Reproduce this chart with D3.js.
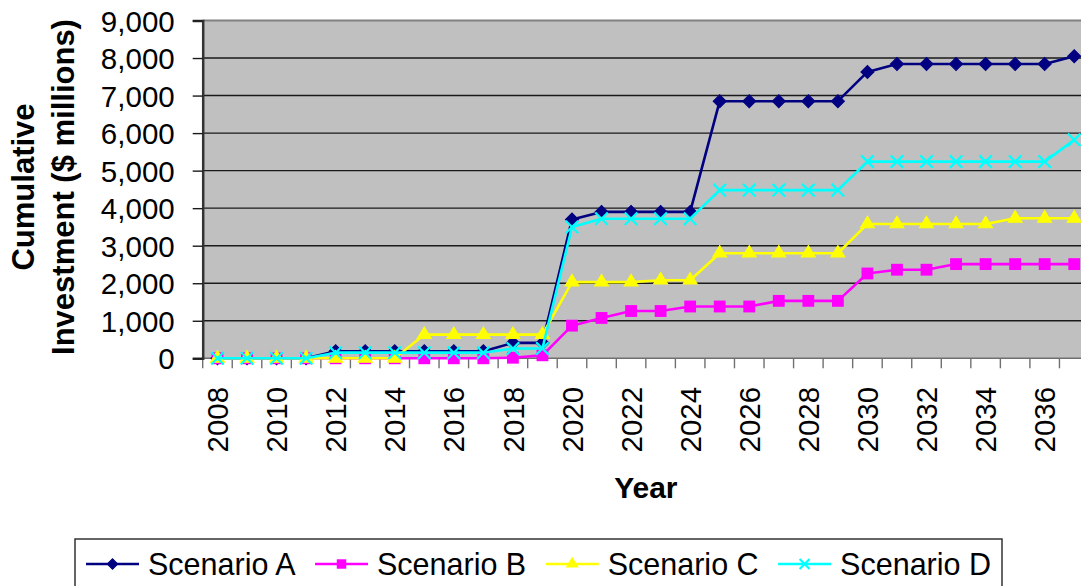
<!DOCTYPE html>
<html>
<head>
<meta charset="utf-8">
<script src="https://cdn.jsdelivr.net/npm/d3@7"></script>
<style>
  html, body { margin: 0; padding: 0; background: #fff; }
  svg { display: block; font-family: "Liberation Sans", Arial, sans-serif; }
</style>
</head>
<body>
<svg id="chart" width="1081" height="586"></svg>
<script>
// Years on the category axis
const years = d3.range(2008, 2038);

// Cumulative investment per scenario, $ millions, one value per year 2008–2037
const scenarioA = [0, 0, 0, 0, 185, 185, 185, 185, 185, 185, 410, 410,
  3700, 3900, 3900, 3900, 3900, 6850, 6850, 6850, 6850, 6850,
  7630, 7840, 7840, 7840, 7840, 7840, 7840, 8050];
const scenarioB = [0, 0, 0, 0, 0, 0, 0, 0, 0, 0, 15, 80,
  870, 1075, 1260, 1260, 1380, 1380, 1380, 1530, 1530, 1530,
  2260, 2360, 2360, 2510, 2510, 2510, 2510, 2510];
const scenarioC = [0, 0, 0, 0, 0, 0, 0, 630, 630, 630, 630, 630,
  2030, 2030, 2030, 2080, 2080, 2800, 2800, 2800, 2800, 2800,
  3580, 3580, 3580, 3580, 3580, 3730, 3730, 3730];
const scenarioD = [0, 0, 0, 0, 150, 150, 150, 150, 150, 150, 260, 260,
  3500, 3720, 3720, 3720, 3720, 4480, 4480, 4480, 4480, 4480,
  5240, 5240, 5240, 5240, 5240, 5240, 5240, 5820];

const seriesNames = ["Scenario A", "Scenario B", "Scenario C", "Scenario D"];
const seriesColors = ["#000080", "#FF00FF", "#FFFF00", "#00FFFF"];
const yTicks = d3.range(0, 9001, 1000);
const xLabelYears = years.filter(y => y % 2 === 0);

const series = [scenarioA, scenarioB, scenarioC, scenarioD].map((vals, i) => ({
  name: seriesNames[i], color: seriesColors[i], kind: i,
  values: vals.map((v, j) => ({ year: years[j], value: v }))
}));

const svg = d3.select("#chart");
const plot = { left: 202.7, right: 1089, top: 20.5, bottom: 358.3 };

const x = d3.scaleBand().domain(years).range([plot.left, plot.right]).paddingInner(0).paddingOuter(0);
const y = d3.scaleLinear().domain([0, 9000]).range([plot.bottom, plot.top]);
const cx = d => x(d) + x.bandwidth() / 2;

// Plot background
svg.append("rect")
  .attr("x", plot.left).attr("y", plot.top)
  .attr("width", plot.right - plot.left).attr("height", plot.bottom - plot.top)
  .attr("fill", "#C0C0C0");

// Horizontal gridlines
svg.append("g").selectAll("line").data(yTicks.filter(t => t > 0 && t < 9000)).join("line")
  .attr("x1", plot.left).attr("x2", plot.right)
  .attr("y1", d => y(d)).attr("y2", d => y(d))
  .attr("stroke", "#1a1a1a").attr("stroke-width", 1.4);

// Top border
svg.append("line")
  .attr("x1", plot.left).attr("x2", plot.right)
  .attr("y1", y(9000)).attr("y2", y(9000))
  .attr("stroke", "#808080").attr("stroke-width", 2);

// Category axis: tick marks at band boundaries
const bounds = years.map(d => x(d)).concat([plot.right]);
svg.append("line")
  .attr("x1", plot.left).attr("x2", plot.right)
  .attr("y1", plot.bottom).attr("y2", plot.bottom)
  .attr("stroke", "#707070").attr("stroke-width", 1.6);
svg.append("g").selectAll("line").data(bounds).join("line")
  .attr("x1", d => d).attr("x2", d => d)
  .attr("y1", plot.bottom).attr("y2", plot.bottom + 10)
  .attr("stroke", "#707070").attr("stroke-width", 1.4);

// Year labels, rotated
const xAxis = d3.axisBottom(x).tickValues(xLabelYears).tickSize(0).tickFormat(d3.format("d"));
const gx = svg.append("g").attr("transform", `translate(0,${plot.bottom})`).call(xAxis);
gx.select(".domain").remove();
gx.selectAll("text")
  .attr("font-size", 29.5).attr("fill", "#000")
  .attr("text-anchor", "end")
  .attr("transform", "translate(0,28.5) rotate(-90)")
  .attr("x", 0).attr("y", 0).attr("dy", "0.36em");

// Value axis
const yAxis = d3.axisLeft(y).tickValues(yTicks).tickFormat(d3.format(",")).tickSize(10).tickPadding(18);
const gy = svg.append("g").attr("transform", `translate(${plot.left},0)`).call(yAxis);
gy.select(".domain").attr("stroke", "#333").attr("stroke-width", 2.5);
gy.selectAll(".tick line").attr("stroke", "#1a1a1a").attr("stroke-width", 1.4);
gy.selectAll("text").attr("font-size", 29.5).attr("fill", "#000").attr("dy", "0.36em");

// Markers
const diamond = d3.symbol().type(d3.symbolSquare);
const square = d3.symbol().type(d3.symbolSquare);
const triangle = d3.symbol().type(d3.symbolTriangle);
const cross = d3.symbol().type(d3.symbolX);

function drawMarker(g, kind, color, scale) {
  const s = scale || 1;
  if (kind === 0) {
    g.append("path").attr("d", diamond.size(86 * s * s)()).attr("transform", "rotate(45)")
      .attr("fill", color).attr("stroke", color).attr("stroke-width", 1);
  } else if (kind === 1) {
    g.append("path").attr("d", square.size(140 * s * s)()).attr("fill", color);
  } else if (kind === 2) {
    g.append("path").attr("d", triangle.size(78 * s * s)()).attr("transform", "scale(1.05,1)")
      .attr("fill", color).attr("stroke", color).attr("stroke-width", 1);
  } else {
    g.append("path").attr("d", cross.size(104 * s * s)())
      .attr("fill", "none").attr("stroke", color).attr("stroke-width", 2.2);
  }
}

const line = d3.line().x(d => cx(d.year)).y(d => y(d.value));

series.forEach(s => {
  const g = svg.append("g");
  g.append("path").datum(s.values).attr("d", line)
    .attr("fill", "none").attr("stroke", s.color).attr("stroke-width", 2.6)
    .attr("stroke-linejoin", "round");
  g.selectAll("g.pt").data(s.values).join("g").attr("class", "pt")
    .attr("transform", d => `translate(${cx(d.year)},${y(d.value)})`)
    .each(function () { drawMarker(d3.select(this), s.kind, s.color); });
});

// Axis titles
svg.append("text")
  .attr("transform", `translate(${(plot.left + plot.right) / 2},498)`)
  .attr("text-anchor", "middle").attr("font-size", 30).attr("font-weight", "bold")
  .text("Year");

const yTitle = svg.append("text")
  .attr("transform", "translate(0,187) rotate(-90)")
  .attr("text-anchor", "middle").attr("font-size", 31).attr("font-weight", "bold");
yTitle.append("tspan").attr("x", 0).attr("y", 34).text("Cumulative");
yTitle.append("tspan").attr("x", 0).attr("y", 74).text("Investment ($ millions)");

// Legend
const legend = svg.append("g");
legend.append("rect")
  .attr("x", 75).attr("y", 539).attr("width", 927).attr("height", 60)
  .attr("fill", "#fff").attr("stroke", "#333").attr("stroke-width", 1.5);

let lx = 86;
series.forEach(s => {
  const item = legend.append("g").attr("transform", `translate(${lx},564)`);
  item.append("line").attr("x1", 0).attr("x2", 53).attr("y1", 0).attr("y2", 0)
    .attr("stroke", s.color).attr("stroke-width", 2.6);
  const m = item.append("g").attr("transform", "translate(26.5,0)");
  drawMarker(m, s.kind, s.color, 0.8);
  const t = item.append("text").attr("x", 62).attr("y", 10.5)
    .attr("font-size", 30.5).attr("fill", "#000").text(s.name);
  lx += 62 + t.node().getComputedTextLength() + 19.5;
});
</script>
</body>
</html>
